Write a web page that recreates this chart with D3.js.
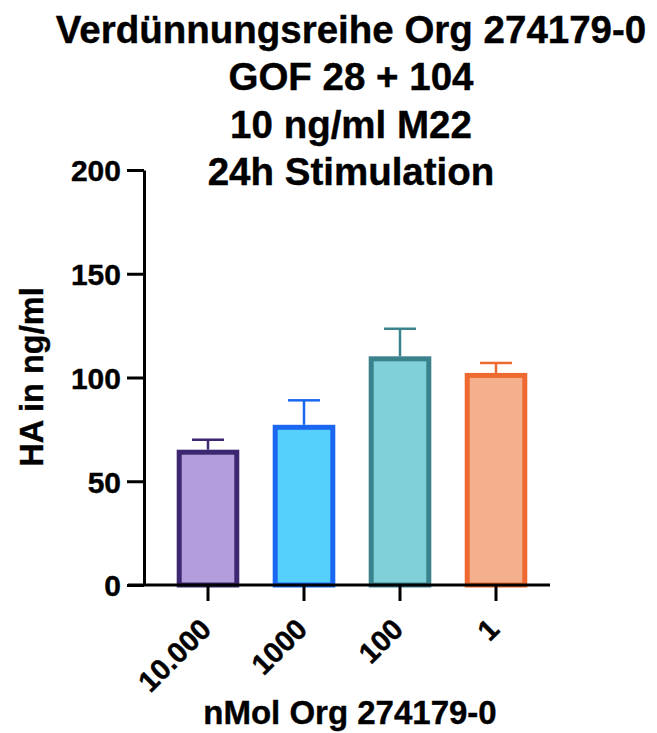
<!DOCTYPE html>
<html>
<head>
<meta charset="utf-8">
<script src="https://cdn.jsdelivr.net/npm/d3@7"></script>
<style>
  html, body { margin: 0; padding: 0; background: #fff; }
  svg { display: block; }
  text { font-family: "Liberation Sans", Arial, Helvetica, sans-serif; font-weight: bold; fill: #000; stroke: #000; stroke-width: 0.4px; }
</style>
</head>
<body>
<svg id="chart" width="657" height="733"></svg>
<script>
// Dilution series data
const categories = ["10.000", "1000", "100", "1"];
const means = [64, 76, 109, 101];
const sds = [6, 13, 14.5, 6];
const fillColors = ["#b39ddb", "#55d0fa", "#7fd0d8", "#f4b08c"];
const strokeColors = ["#3d2770", "#1a66f0", "#3a828c", "#ee6a30"];
const yTicks = [0, 50, 100, 150, 200];
const titleLines = ["Verdünnungsreihe Org 274179-0", "GOF 28 + 104", "10 ng/ml M22", "24h Stimulation"];

const svg = d3.select("#chart");

const y = d3.scaleLinear().domain([0, 200]).range([585, 170]);
const x = d3.scaleBand().domain(categories).range([160, 544]).paddingInner(0.4).paddingOuter(0.2);
const axisX0 = 144, axisX1 = 550;

// Title
svg.append("g").selectAll("text").data(titleLines).join("text")
  .attr("x", 351)
  .attr("y", (d, i) => 43 + i * 47.3)
  .attr("text-anchor", "middle")
  .style("font-size", "38.5px")
  .text(d => d);

// Bars
const data = categories.map((c, i) => ({ c, m: means[i], sd: sds[i], fill: fillColors[i], stroke: strokeColors[i] }));

const bars = svg.append("g");
bars.selectAll("rect").data(data).join("rect")
  .attr("x", d => x(d.c))
  .attr("y", d => y(d.m))
  .attr("width", x.bandwidth())
  .attr("height", d => y(0) - y(d.m))
  .attr("fill", d => d.fill)
  .attr("stroke", d => d.stroke)
  .attr("stroke-width", 5);

// Error bars (upper half only)
const err = svg.append("g");
data.forEach(d => {
  const cx = x(d.c) + x.bandwidth() / 2;
  err.append("line")
    .attr("x1", cx).attr("x2", cx)
    .attr("y1", y(d.m) - 2.5).attr("y2", y(d.m + d.sd))
    .attr("stroke", d.stroke).attr("stroke-width", 2.5);
  err.append("line")
    .attr("x1", cx - 16).attr("x2", cx + 16)
    .attr("y1", y(d.m + d.sd)).attr("y2", y(d.m + d.sd))
    .attr("stroke", d.stroke).attr("stroke-width", 2.5);
});

// Y axis
const yAxis = d3.axisLeft(y).tickValues(yTicks).tickSize(17).tickPadding(6).tickSizeOuter(0);
const gy = svg.append("g").attr("transform", `translate(${axisX0},0)`).call(yAxis);
gy.select(".domain").attr("stroke", "#000").attr("stroke-width", 3);
gy.selectAll(".tick line").attr("stroke", "#000").attr("stroke-width", 3);
gy.selectAll(".tick text").style("font-size", "30px").attr("fill", "#000")
  .attr("font-family", null).attr("dy", "0.36em");

// X axis
const xAxis = d3.axisBottom(x).tickSize(16).tickSizeOuter(0).tickFormat(d => d);
const gx = svg.append("g").attr("transform", `translate(0,${y(0)})`).call(xAxis);
gx.select(".domain").attr("d", `M${axisX0 - 16},0H${axisX1}`).attr("stroke", "#000").attr("stroke-width", 3);
gx.selectAll(".tick line").attr("stroke", "#000").attr("stroke-width", 3);
gx.selectAll(".tick text")
  .style("font-size", "29px").attr("fill", "#000").attr("font-family", null)
  .attr("text-anchor", "end")
  .attr("x", 0).attr("y", 0).attr("dy", 0)
  .attr("transform", "translate(5,46) rotate(-45)");

// Axis titles
svg.append("text")
  .attr("transform", "translate(43,377) rotate(-90)")
  .attr("text-anchor", "middle")
  .style("font-size", "32.5px")
  .text("HA in ng/ml");

svg.append("text")
  .attr("x", 350)
  .attr("y", 724)
  .attr("text-anchor", "middle")
  .style("font-size", "33px")
  .text("nMol Org 274179-0");
</script>
</body>
</html>
